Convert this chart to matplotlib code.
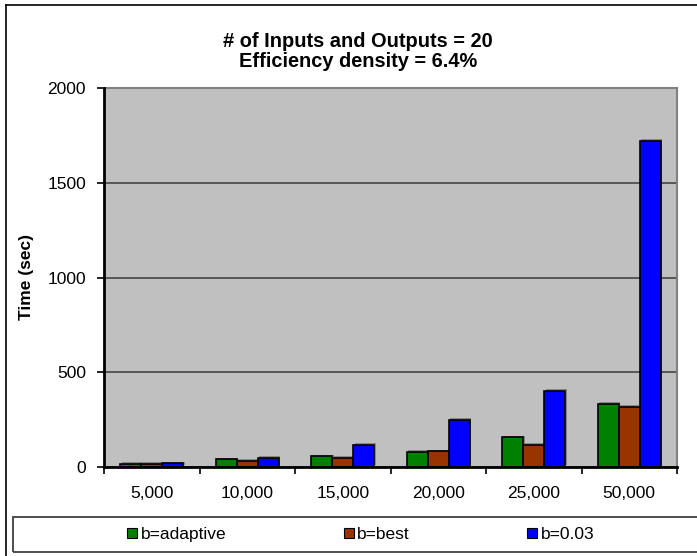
import matplotlib
matplotlib.use("Agg")
import matplotlib.pyplot as plt
import matplotlib.patheffects as pe
from matplotlib.lines import Line2D
from matplotlib.patches import Rectangle
import numpy as np

plt.rcParams['font.family'] = ['Liberation Sans', 'DejaVu Sans']

# Problem sizes and run times (seconds)
categories = ["5,000", "10,000", "15,000", "20,000", "25,000", "50,000"]
series_names = ["b=adaptive", "b=best", "b=0.03"]
t_adaptive = [15, 40, 56, 81, 157, 332]
t_best = [15, 32, 49, 83, 116, 318]
t_003 = [20, 49, 116, 250, 401, 1720]
series_values = [t_adaptive, t_best, t_003]
series_colors = ["#008000", "#993300", "#0000FF"]
y_ticks = [0, 500, 1000, 1500, 2000]

W, H = 697, 556
fig = plt.figure(figsize=(W / 100, H / 100), dpi=100)
fig.patch.set_facecolor("white")

def fx(px):
    return px / W

def fy(py):
    return 1 - py / H

ax = fig.add_axes([fx(104), fy(467), fx(677) - fx(104), fy(88) - fy(467)])
ax.set_facecolor("#C0C0C0")

x = np.arange(len(categories))
bw = 0.22
shadow = [pe.SimplePatchShadow(offset=(1.2, 1.2), shadow_rgbFace="#707070", alpha=0.7), pe.Normal()]
for i, (vals, col) in enumerate(zip(series_values, series_colors)):
    ax.bar(x + (i - 1) * bw, vals, width=bw, color=col, edgecolor="black",
           linewidth=1.2, zorder=3, path_effects=shadow)

ax.set_xlim(-0.5, len(categories) - 0.5)
ax.set_ylim(0, 2000)
ax.set_yticks(y_ticks)
ax.set_yticklabels([str(v) for v in y_ticks], fontsize=12.5)
ax.yaxis.grid(True, color="#3a3a3a", linewidth=1.1, zorder=1)
ax.set_axisbelow(True)

ax.set_xticks(x)
ax.set_xticklabels(categories, fontsize=12.5)
ax.set_xticks(np.arange(-0.5, len(categories)), minor=True)
ax.tick_params(axis="x", which="major", length=0, pad=14)
ax.tick_params(axis="x", which="minor", length=5, width=1.2, color="black", direction="out")
ax.tick_params(axis="y", which="major", length=5, width=1.2, color="black", direction="out", pad=8)

for side in ("left", "bottom"):
    ax.spines[side].set_color("black")
    ax.spines[side].set_linewidth(2)
    ax.spines[side].set_zorder(5)
for side in ("top", "right"):
    ax.spines[side].set_color("#808080")
    ax.spines[side].set_linewidth(1.5)

ax.set_ylabel("Time (sec)", fontsize=12.5, fontweight="bold")
ax.yaxis.set_label_coords((34 - 104) / 573, 0.5)

fig.text(fx(358), fy(51.5), "# of Inputs and Outputs = 20\nEfficiency density = 6.4%",
         ha="center", va="center", fontsize=14.4, fontweight="bold", linespacing=1.05)

# chart frame (top and left edges)
fig.add_artist(Line2D([fx(6), fx(6)], [fy(5), fy(560)], color="black", linewidth=1.2))
fig.add_artist(Line2D([fx(6), fx(700)], [fy(5), fy(5)], color="black", linewidth=1.2))

# legend frame
fig.add_artist(Rectangle((fx(12.5), fy(552)), fx(700) - fx(12.5), fy(517) - fy(552),
                         transform=fig.transFigure, fill=False, edgecolor="#404040", linewidth=1.3))

handles = [Line2D([], [], linestyle="none", marker="s", markersize=6.5,
                  markerfacecolor=c, markeredgecolor="black", markeredgewidth=0.8)
           for c in series_colors]
fig.legend(handles, series_names, loc="center", bbox_to_anchor=(fx(361), fy(534)),
           ncol=3, frameon=False, fontsize=12.5, handlelength=0.5, handletextpad=0.25,
           columnspacing=6.8, borderpad=0)

fig.savefig("out.png", dpi=100)
